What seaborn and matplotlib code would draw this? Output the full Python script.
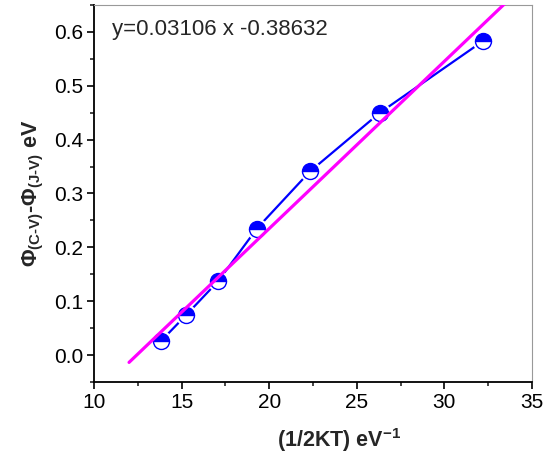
import numpy as np
import pandas as pd
import matplotlib
matplotlib.use("Agg")
import matplotlib.pyplot as plt
import seaborn as sns
from matplotlib.ticker import MultipleLocator

# Data
x_vals = [13.82, 15.25, 17.08, 19.30, 22.33, 26.32, 32.2]
y_vals = [0.026, 0.074, 0.137, 0.235, 0.341, 0.450, 0.583]
fit_slope = 0.03106
fit_intercept = -0.38632
fit_x_range = [12.0, 34.0]
fit_label = "y=0.03106 x -0.38632"

sns.set_style("ticks")
plt.rcParams['font.family'] = ['Liberation Sans', 'DejaVu Sans']
plt.rcParams['mathtext.fontset'] = 'custom'
plt.rcParams['mathtext.rm'] = 'Liberation Sans:bold'
plt.rcParams['mathtext.it'] = 'Liberation Sans:bold'
plt.rcParams['mathtext.bf'] = 'Liberation Sans:bold'

fig = plt.figure(figsize=(5.52, 4.59), dpi=100)
ax = fig.add_axes([94/552, 1-382/459, (532-94)/552, (382-5)/459])

df = pd.DataFrame({"x": x_vals, "y": y_vals})
fx = np.linspace(fit_x_range[0], fit_x_range[1], 50)
fit_df = pd.DataFrame({"x": fx, "y": fit_slope * fx + fit_intercept})

sns.lineplot(data=df, x="x", y="y", ax=ax, color="#0000FF", lw=1.6, sort=False, zorder=3)
# white halo to break the connecting line near markers
ax.plot(df["x"], df["y"], ls="none", marker="o", ms=14.5, mfc="white", mec="white", zorder=4)
ax.plot(df["x"], df["y"], ls="none", marker="o", ms=11.5, fillstyle="top",
        mfc="#0000FF", mfcalt="white", mec="#0000FF", mew=1.0, zorder=5)
sns.lineplot(data=fit_df, x="x", y="y", ax=ax, color="#FF00FF", lw=2.3, zorder=6)

ax.set_xlim(10, 35)
ax.set_ylim(-0.05, 0.65)
ax.xaxis.set_major_locator(MultipleLocator(5))
ax.xaxis.set_minor_locator(MultipleLocator(2.5))
ax.yaxis.set_major_locator(MultipleLocator(0.1))
ax.yaxis.set_minor_locator(MultipleLocator(0.05))
ax.yaxis.set_major_formatter(matplotlib.ticker.FormatStrFormatter('%.1f'))

ax.tick_params(which="major", direction="out", length=5, width=1.2, labelsize=15, colors="black", pad=3)
ax.tick_params(which="minor", direction="out", length=3, width=1.2)
ax.tick_params(top=False, right=False, which="both")
for s in ["left", "bottom"]:
    ax.spines[s].set_color("black")
    ax.spines[s].set_linewidth(1.3)
for s in ["top", "right"]:
    ax.spines[s].set_visible(True)
    ax.spines[s].set_color("#999999")
    ax.spines[s].set_linewidth(0.8)

ax.set_xlabel(r"(1/2KT) eV$^{\mathregular{-1}}$", fontsize=15.5, fontweight="bold")
ax.xaxis.set_label_coords(0.56, -0.118)
ax.set_ylabel(r"$\Phi_{\mathregular{(C\text{-}V)}}$-$\Phi_{\mathregular{(J\text{-}V)}}$ eV",
              fontsize=15.5, fontweight="bold")
ax.yaxis.set_label_coords(-0.11, 0.5)

ax.text(0.041, 0.962, fit_label, transform=ax.transAxes, fontsize=16, va="top", ha="left")

fig.savefig("out.png", dpi=100)
